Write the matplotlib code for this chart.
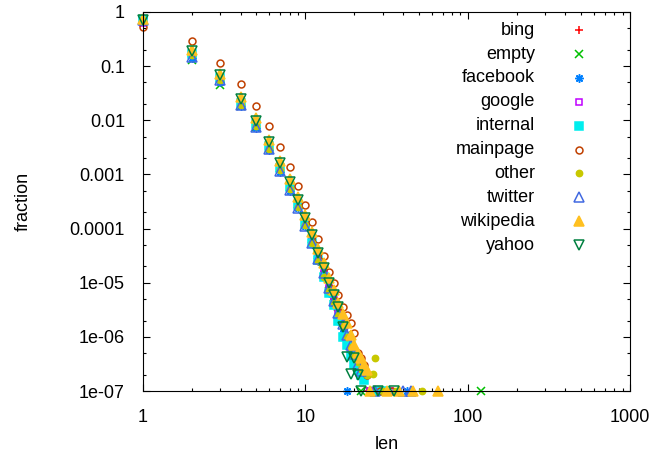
import matplotlib

matplotlib.use("Agg")
import matplotlib.pyplot as plt  # noqa: E402

plt.rcParams["font.family"] = ["Liberation Sans", "DejaVu Sans"]

# fraction of sessions per length, one pair of lists per referrer (1e-7 = floor row)
bing_len = [1, 2, 3, 4, 5, 6, 7, 8, 9, 10, 11, 12, 13, 14, 15, 16, 17, 18, 19, 20, 21, 22, 24, 30]
bing_frac = [0.72, 0.17, 0.062, 0.022, 0.0088, 0.0035, 0.0014, 0.00062, 0.00029, 0.00013, 6.3e-5, 3.0e-5,
             1.6e-5, 8.0e-6, 5.0e-6, 3.4e-6, 2.2e-6, 1.2e-6, 9e-7, 5e-7, 3e-7, 2e-7, 1e-7, 1e-7]
empty_len = [1, 2, 3, 4, 5, 6, 7, 8, 9, 10, 11, 12, 13, 14, 15, 16, 17, 18, 19, 20, 22, 27, 121]
empty_frac = [0.74, 0.13, 0.045, 0.018, 0.0075, 0.0031, 0.0013, 0.00058, 0.00028, 0.00013, 6.4e-5, 3.2e-5,
              1.7e-5, 9.5e-6, 5.5e-6, 3.6e-6, 1.9e-6, 1.1e-6, 7e-7, 4.5e-7, 1e-7, 1e-7, 1e-7]
facebook_len = [1, 2, 3, 4, 5, 6, 7, 8, 9, 10, 11, 12, 13, 14, 15, 16, 17, 18, 26, 42]
facebook_frac = [0.78, 0.14, 0.05, 0.018, 0.0072, 0.0028, 0.0011, 0.0005, 0.00024, 0.00011, 5.2e-5, 2.5e-5,
                 1.3e-5, 6.5e-6, 3.8e-6, 2.0e-6, 1.2e-6, 1e-7, 1e-7, 1e-7]
google_len = [1, 2, 3, 4, 5, 6, 7, 8, 9, 10, 11, 12, 13, 14, 15, 16, 17, 18, 19, 20, 21, 22, 23, 25, 33]
google_frac = [0.62, 0.17, 0.062, 0.022, 0.0088, 0.0034, 0.0014, 0.0006, 0.00028, 0.00013, 6e-5, 2.9e-5,
               1.5e-5, 8e-6, 4.8e-6, 3.0e-6, 1.8e-6, 1.0e-6, 6e-7, 4e-7, 3e-7, 2.7e-7, 2e-7, 1e-7, 1e-7]
internal_len = [1, 2, 3, 4, 5, 6, 7, 8, 9, 10, 11, 12, 13, 14, 15, 16, 17, 18, 19, 20, 21, 22, 23, 28, 31]
internal_frac = [0.70, 0.17, 0.06, 0.021, 0.0085, 0.0034, 0.0013, 0.00058, 0.00027, 0.00012, 5.5e-5, 2.6e-5,
                 1.3e-5, 6.5e-6, 3.8e-6, 2.0e-6, 1.0e-6, 7e-7, 4.5e-7, 3.2e-7, 2.4e-7, 2.0e-7, 1.6e-7, 1e-7, 1e-7]
mainpage_len = [1, 2, 3, 4, 5, 6, 7, 8, 9, 10, 11, 12, 13, 14, 15, 16, 17, 18, 19, 20, 21, 22, 23, 24, 29, 34]
mainpage_frac = [0.53, 0.29, 0.116, 0.046, 0.018, 0.0077, 0.0032, 0.00138, 0.00061, 0.00027, 0.000133, 6.3e-5,
                 3.1e-5, 1.6e-5, 1.0e-5, 6e-6, 3.6e-6, 2.5e-6, 1.8e-6, 1.2e-6, 5e-7, 4e-7, 3e-7, 2e-7, 1e-7, 1e-7]
other_len = [1, 2, 3, 4, 5, 6, 7, 8, 9, 10, 11, 12, 13, 14, 15, 16, 17, 18, 19, 20, 21, 22, 24, 26, 27, 30, 36, 52]
other_frac = [0.68, 0.16, 0.055, 0.019, 0.0078, 0.003, 0.0012, 0.00053, 0.00025, 0.000115, 5.3e-5, 2.5e-5,
              1.3e-5, 7e-6, 4.2e-6, 2.6e-6, 1.6e-6, 1.0e-6, 6.5e-7, 4.5e-7, 3.5e-7, 2.5e-7, 2e-7, 2.1e-7, 4e-7,
              1e-7, 1e-7, 1e-7]
twitter_len = [1, 2, 3, 4, 5, 6, 7, 8, 9, 10, 11, 12, 13, 14, 15, 16, 17, 18, 19, 20, 21, 22, 27, 40, 45]
twitter_frac = [0.72, 0.145, 0.055, 0.019, 0.0075, 0.0029, 0.00118, 0.00052, 0.00024, 0.000112, 5.5e-5, 2.8e-5,
                1.5e-5, 8e-6, 4.5e-6, 2.8e-6, 1.7e-6, 1.1e-6, 7e-7, 4.8e-7, 3.2e-7, 2.3e-7, 1e-7, 1e-7, 1e-7]
wikipedia_len = [1, 2, 3, 4, 5, 6, 7, 8, 9, 10, 11, 12, 13, 14, 15, 16, 17, 18, 19, 20, 21, 22, 23, 24,
                 25, 32, 38, 46, 66]
wikipedia_frac = [0.75, 0.2, 0.072, 0.027, 0.0108, 0.0044, 0.0018, 0.00082, 0.00038, 0.00018, 8.5e-5, 4.2e-5,
                  2.3e-5, 1.2e-5, 7.2e-6, 4.2e-6, 2.6e-6, 1.8e-6, 1.1e-6, 7e-7, 5e-7, 4e-7, 3e-7, 2.4e-7,
                  1e-7, 1e-7, 1e-7, 1e-7, 1e-7]
yahoo_len = [1, 2, 3, 4, 5, 6, 7, 8, 9, 10, 11, 12, 13, 14, 15, 16, 17, 18, 19, 20, 21, 22, 28, 35]
yahoo_frac = [0.70, 0.19, 0.068, 0.025, 0.0098, 0.004, 0.0016, 0.00072, 0.00034, 0.00016, 7.5e-5, 3.6e-5,
              1.9e-5, 1.0e-5, 6e-6, 3.5e-6, 1.5e-6, 4.2e-7, 2.1e-7, 4e-7, 2e-7, 1e-7, 1e-7, 1e-7]

names = ["bing", "empty", "facebook", "google", "internal", "mainpage", "other", "twitter", "wikipedia", "yahoo"]
lens = [bing_len, empty_len, facebook_len, google_len, internal_len, mainpage_len, other_len, twitter_len,
        wikipedia_len, yahoo_len]
fracs = [bing_frac, empty_frac, facebook_frac, google_frac, internal_frac, mainpage_frac, other_frac,
         twitter_frac, wikipedia_frac, yahoo_frac]

# gnuplot default point types / colours
colors = ["#ff0000", "#00c000", "#0080ff", "#c000ff", "#00eeee", "#c04000", "#c8c800", "#4169e1", "#ffc020",
          "#008040"]
markers = ["+", "x", (8, 2, 0), "s", "s", "o", "o", "^", "^", "v"]
filled = [True, True, True, False, True, False, True, False, True, False]
sizes = [6, 5.5, 6, 5, 5.5, 5, 4.5, 6.5, 6.5, 6.5]

fig = plt.figure(figsize=(6.51, 4.61), dpi=100)
ax = fig.add_axes([143 / 651, 70 / 461, 487 / 651, 379 / 461])

for i, name in enumerate(names):
    face = colors[i] if filled[i] else "none"
    style = dict(ls="none", marker=markers[i], ms=sizes[i], mec=colors[i], mfc=face, mew=1.1, clip_on=False)
    ax.plot(lens[i], fracs[i], **style)
    # key entry, right justified text then sample (gnuplot style)
    ky = 0.952 - i * 0.063
    ax.text(0.805, ky, name, transform=ax.transAxes, ha="right", va="center", fontsize=13)
    ax.plot([0.895], [ky], transform=ax.transAxes, **style)

ax.set_xscale("log")
ax.set_yscale("log")
ax.set_xlim(1, 1000)
ax.set_ylim(1e-7, 1)
ax.set_xticks([1, 10, 100, 1000])
ax.set_xticklabels(["1", "10", "100", "1000"])
ax.set_yticks([1, 0.1, 0.01, 0.001, 0.0001, 1e-5, 1e-6, 1e-7])
ax.set_yticklabels(["1", "0.1", "0.01", "0.001", "0.0001", "1e-05", "1e-06", "1e-07"])
ax.xaxis.set_minor_locator(matplotlib.ticker.LogLocator(base=10, subs=[2, 3, 4, 5, 6, 7, 8, 9]))
ax.yaxis.set_minor_locator(matplotlib.ticker.LogLocator(base=10, subs=[2, 5], numticks=20))
ax.xaxis.set_minor_formatter(matplotlib.ticker.NullFormatter())
ax.yaxis.set_minor_formatter(matplotlib.ticker.NullFormatter())
ax.tick_params(which="both", direction="in", top=True, right=True, labelsize=13, pad=13)
ax.tick_params(which="major", length=5, width=0.8)
ax.tick_params(which="minor", length=2.5, width=0.8)
for s in ax.spines.values():
    s.set_linewidth(0.8)

ax.set_xlabel("len", fontsize=13, labelpad=7)
ax.set_ylabel("fraction", fontsize=13, labelpad=27)

fig.savefig("out.png", dpi=100)
